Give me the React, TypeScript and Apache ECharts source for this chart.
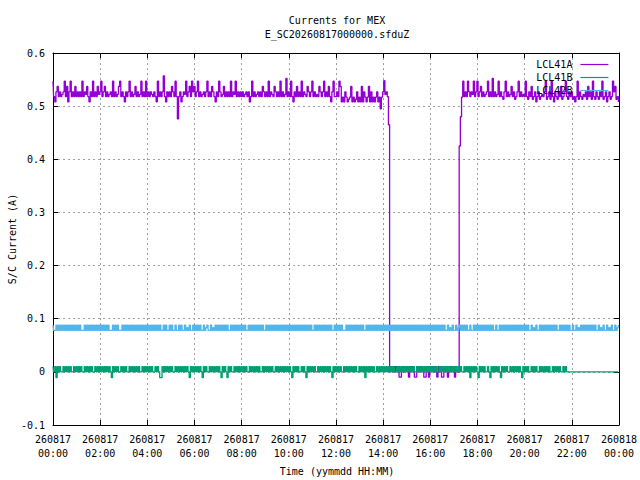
import React, { useEffect, useRef } from "react";
import * as echarts from "echarts";

// Sampling: one value every 3 minutes from 260817 00:00 to 260818 00:00
const SAMPLE_MIN = 3;

// Currents in mA (converted to A when plotted)
const lcl41A: number[] = [
  547,518,508,527,537,518,527,518,522,527,547,518,537,508,527,547,518,527,518,537,
  518,527,518,527,518,547,518,527,522,537,518,508,527,518,547,518,527,518,537,522,
  527,547,518,527,537,518,527,518,522,527,518,547,518,527,518,522,537,547,518,527,
  518,508,527,518,527,547,518,527,518,522,537,518,527,518,522,547,518,527,518,547,
  518,527,518,527,522,518,527,518,508,547,518,527,518,527,557,518,508,527,518,527,
  518,537,527,518,547,518,476,518,527,508,518,527,522,547,518,527,537,518,547,527,
  537,518,527,547,518,527,518,522,527,518,527,547,518,527,518,537,527,518,508,527,
  518,547,527,518,522,537,518,527,518,527,518,547,518,527,522,547,518,527,518,527,
  518,527,518,522,527,518,527,508,518,547,518,527,518,522,527,518,527,518,537,527,
  518,527,518,547,518,527,522,518,537,527,518,527,518,547,518,527,518,522,552,518,
  527,518,547,518,508,527,518,537,518,527,518,547,518,527,522,518,537,527,518,527,
  547,518,527,518,522,518,537,527,518,527,547,518,527,518,537,518,508,527,547,518,
  518,527,518,547,537,508,517,508,527,517,508,513,517,537,508,517,508,513,527,508,
  517,508,537,508,527,517,508,517,537,508,527,508,517,508,517,527,508,517,495,517,
  527,548,522,527,518,465,0,10,0,10,0,10,0,10,-10,-10,10,0,10,0,
  10,0,-10,10,0,10,0,-10,-10,10,0,10,0,10,0,-10,-10,10,0,-10,
  10,0,10,0,10,0,-10,10,0,10,-10,-10,10,0,10,-10,0,10,0,10,
  0,-10,10,0,0,425,480,517,547,518,527,518,547,527,518,527,522,547,518,527,
  547,518,527,537,518,527,518,522,527,547,518,527,518,552,518,527,518,522,547,518,
  527,518,513,527,547,518,527,518,522,537,518,527,513,518,527,547,518,527,518,522,
  518,547,518,513,527,518,537,513,518,527,508,518,527,513,518,522,518,527,547,513,
  518,527,513,547,518,508,527,518,513,527,518,537,513,518,527,547,518,513,527,518,
  527,513,518,508,518,547,513,527,518,513,522,518,527,513,537,518,527,513,547,518,
  513,527,518,513,527,518,547,513,518,527,508,518,527,513,518,547,527,537,513,518,
  508,
];

const lcl41B: number[] = [
  10,0,10,-11,10,0,10,0,0,10,0,10,0,10,0,10,0,0,10,0,
  10,0,10,0,10,0,0,10,0,10,0,10,0,10,0,0,10,0,10,0,
  10,0,10,0,10,0,10,0,10,0,-11,10,0,10,0,10,0,0,10,0,
  10,0,10,0,0,10,0,10,0,10,0,10,0,10,0,0,10,0,10,0,
  10,0,10,0,10,0,0,10,0,10,0,-11,-11,10,0,10,0,10,0,10,
  0,10,0,0,10,0,10,0,10,0,10,0,10,0,10,0,-11,10,0,10,
  0,10,0,10,0,10,0,-11,10,0,10,0,0,10,0,10,0,10,0,10,
  0,10,0,-11,10,0,10,0,-11,10,0,10,0,0,10,0,10,0,10,0,
  10,0,10,0,10,0,0,10,0,10,0,10,0,10,0,10,0,0,10,0,
  10,0,10,0,10,0,10,0,0,10,0,10,0,10,0,10,0,10,0,10,
  0,10,0,-11,10,0,10,0,10,0,0,10,0,10,0,-11,10,0,10,0,
  10,0,10,0,0,10,0,10,0,10,0,10,0,10,0,10,0,-11,10,0,
  10,0,10,0,10,0,0,10,0,10,0,10,0,10,0,10,0,10,0,0,
  10,0,10,0,10,-11,10,0,10,0,10,0,10,0,0,10,0,10,0,10,
  0,10,0,10,0,10,0,10,0,10,0,0,10,0,10,0,10,0,10,0,
  10,0,10,0,10,0,10,0,0,10,0,10,0,10,0,10,0,10,0,10,
  0,10,0,10,0,10,0,0,10,0,10,0,10,0,10,0,10,0,10,0,
  10,0,10,0,10,0,10,0,0,10,0,10,0,10,-11,10,0,10,0,10,
  0,-11,10,0,10,0,10,0,0,10,0,-11,10,0,10,0,10,0,10,0,
  -11,10,0,10,0,10,0,0,10,0,10,0,10,0,10,0,10,0,-11,10,
  0,10,0,10,0,0,10,0,10,0,10,0,0,10,0,10,0,10,0,10,
  0,10,0,0,10,0,10,0,10,0,10,0,0,10,0,10,0,0,0,0,
  0,0,0,0,0,0,0,0,0,0,0,0,0,0,0,0,0,0,0,0,
  0,0,0,0,0,0,0,0,0,0,0,0,0,0,0,0,0,0,0,0,
  0,
];

const lcl42B: number[] = [
  88,78,78,88,78,88,78,88,78,88,78,88,78,88,78,88,78,88,78,88,
  78,88,78,88,78,78,78,88,78,88,78,88,78,88,78,88,78,88,78,88,
  78,88,78,88,78,88,78,88,78,78,78,88,78,88,78,88,78,78,78,88,
  78,88,78,88,78,88,78,88,78,88,78,88,78,88,78,88,78,88,78,88,
  78,88,78,88,78,88,78,88,78,88,78,88,78,78,88,78,88,78,78,88,
  78,88,78,78,88,78,78,88,78,88,78,78,88,78,83,78,88,78,78,88,
  78,88,78,88,78,88,78,78,88,78,83,88,78,78,88,78,83,78,88,78,
  88,78,88,78,88,78,88,78,88,78,78,88,78,88,78,88,78,88,78,88,
  78,88,78,88,78,78,88,78,88,78,88,78,88,78,88,78,88,78,88,78,
  78,88,78,88,78,88,78,88,78,88,78,88,78,88,78,88,78,88,78,88,
  78,88,78,88,78,88,78,88,78,88,78,88,78,88,78,88,78,88,78,88,
  78,78,88,78,88,78,88,78,88,78,88,78,88,78,88,78,88,78,78,88,
  78,88,78,88,78,88,78,78,78,88,78,88,78,88,78,88,78,88,78,88,
  78,88,78,88,78,78,88,78,88,78,88,78,88,78,88,78,88,78,88,78,
  88,78,88,78,88,78,88,78,88,78,88,78,88,78,88,78,88,78,88,78,
  88,78,88,78,88,78,88,78,88,78,88,78,88,78,88,78,88,78,88,78,
  88,78,88,78,88,78,88,78,88,78,88,78,88,78,78,88,78,83,78,88,
  78,78,88,78,83,88,78,88,78,88,78,88,78,78,88,78,78,88,78,88,
  78,88,78,88,78,88,78,88,78,88,78,88,78,88,78,78,88,78,78,88,
  78,88,78,88,78,88,78,88,78,88,78,88,78,88,78,88,78,88,78,88,
  78,88,78,88,78,78,88,78,83,78,88,78,78,88,78,88,78,88,78,88,
  78,88,78,88,78,88,78,88,78,78,88,78,88,78,88,78,88,78,88,78,
  78,88,78,78,88,78,83,78,88,78,88,78,88,78,88,78,88,78,88,78,
  88,78,78,88,78,83,78,88,78,78,88,78,83,78,88,78,78,88,78,83,
  88,
];

const seriesNames = ["LCL41A", "LCL41B", "LCL42B"];
const seriesColors = ["#9400d3", "#009e73", "#56b4e9"];

const xTickLabels = [
  "260817\n00:00", "260817\n02:00", "260817\n04:00", "260817\n06:00",
  "260817\n08:00", "260817\n10:00", "260817\n12:00", "260817\n14:00",
  "260817\n16:00", "260817\n18:00", "260817\n20:00", "260817\n22:00",
  "260818\n00:00",
];
const yTickLabels = ["-0.1", "0", "0.1", "0.2", "0.3", "0.4", "0.5", "0.6"];

const titleLines = ["Currents for MEX", "E_SC20260817000000.sfduZ"];
const xAxisTitle = "Time (yymmdd HH:MM)";
const yAxisTitle = "S/C Current (A)";

const FONT = '"DejaVu Sans Mono", "Liberation Mono", monospace';

function toPoints(arr: number[]) {
  return arr.map((v, i) => [i * SAMPLE_MIN, v / 1000]);
}

export default function App() {
  const ref = useRef<HTMLDivElement>(null);

  useEffect(() => {
    if (!ref.current) return;
    const chart = echarts.init(ref.current, undefined, { renderer: "svg" });
    const gridLine = { show: true, lineStyle: { color: "#a0a0a0", width: 1, type: [2, 3] as any } };
    const axisLine = { show: true, onZero: false, lineStyle: { color: "#000", width: 1 } };
    const tick = { show: true, inside: true, length: 5, lineStyle: { color: "#000", width: 1 } };

    chart.setOption({
      animation: false,
      color: seriesColors,
      grid: { left: 53, top: 53, width: 568, height: 372 },
      legend: {
        orient: "vertical",
        right: 31,
        top: 58,
        padding: 0,
        align: "right",
        itemWidth: 28,
        itemHeight: 2,
        itemGap: 0,
        selectedMode: false,
        itemStyle: { opacity: 0 },
        lineStyle: { width: 1.2 },
        textStyle: { fontFamily: FONT, fontSize: 10, color: "#000", lineHeight: 13, padding: [0, 3, 0, 0] },
        data: seriesNames,
      },
      xAxis: [
        {
          type: "value",
          min: 0,
          max: 1440,
          interval: 120,
          axisLine,
          axisTick: tick,
          splitLine: gridLine,
          axisLabel: {
            margin: 7,
            fontFamily: FONT,
            fontSize: 10,
            color: "#000",
            lineHeight: 14,
            formatter: (v: number) => xTickLabels[Math.round(v / 120)] ?? "",
          },
        },
        {
          type: "value",
          position: "top",
          min: 0,
          max: 1440,
          interval: 120,
          axisLine,
          axisTick: tick,
          splitLine: { show: false },
          axisLabel: { show: false },
        },
      ],
      yAxis: [
        {
          type: "value",
          min: -0.1,
          max: 0.6,
          interval: 0.1,
          axisLine,
          axisTick: tick,
          splitLine: gridLine,
          axisLabel: {
            margin: 8,
            fontFamily: FONT,
            fontSize: 10,
            color: "#000",
            formatter: (v: number) => yTickLabels[Math.round((v + 0.1) / 0.1)] ?? "",
          },
        },
        {
          type: "value",
          position: "right",
          min: -0.1,
          max: 0.6,
          interval: 0.1,
          axisLine,
          axisTick: tick,
          splitLine: { show: false },
          axisLabel: { show: false },
        },
      ],
      graphic: [
        {
          type: "text",
          x: 337,
          y: 20,
          style: { text: titleLines[0], font: `10px ${FONT}`, fill: "#000", textAlign: "center", textVerticalAlign: "middle" },
        },
        {
          type: "text",
          x: 337,
          y: 34,
          style: { text: titleLines[1], font: `10px ${FONT}`, fill: "#000", textAlign: "center", textVerticalAlign: "middle" },
        },
        {
          type: "text",
          x: 337,
          y: 471,
          style: { text: xAxisTitle, font: `10px ${FONT}`, fill: "#000", textAlign: "center", textVerticalAlign: "middle" },
        },
        {
          type: "text",
          x: 12,
          y: 239,
          rotation: Math.PI / 2,
          style: { text: yAxisTitle, font: `10px ${FONT}`, fill: "#000", textAlign: "center", textVerticalAlign: "middle" },
        },
      ],
      series: [lcl41A, lcl41B, lcl42B].map((arr, k) => ({
        name: seriesNames[k],
        type: "line",
        xAxisIndex: 0,
        yAxisIndex: 0,
        data: toPoints(arr),
        step: "middle",
        showSymbol: false,
        symbol: "none",
        lineStyle: { width: 1.3, color: seriesColors[k] },
        itemStyle: { color: seriesColors[k] },
        emphasis: { disabled: true },
      })),
    });

    return () => chart.dispose();
  }, []);

  return (
    <div
      ref={ref}
      style={{ position: "fixed", left: 0, top: 0, width: 640, height: 480, background: "#fff" }}
    />
  );
}
